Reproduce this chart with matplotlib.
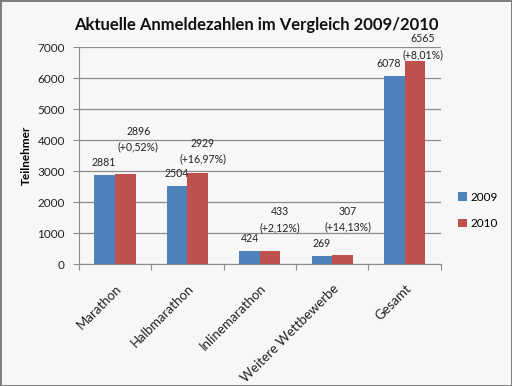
import matplotlib
matplotlib.use("Agg")
import matplotlib.pyplot as plt
import numpy as np

categories = ["Marathon", "Halbmarathon", "Inlinemarathon", "Weitere Wettbewerbe", "Gesamt"]
values_2009 = [2881, 2504, 424, 269, 6078]
values_2010 = [2896, 2929, 433, 307, 6565]
series_names = ["2009", "2010"]

# label nudges in pixels (hand placed in the original)
shift_2009_x = [-1, 0, 0, 0, -6]
shift_2010_x = [13, 5, 10, 5, 8]
shift_2010_y = [35, 22, 31, 35, 14]

blue = "#4F81BD"
red = "#C0504D"

plt.rcParams["font.family"] = ["Lato", "DejaVu Sans"]

fig = plt.figure(figsize=(5.12, 3.86), dpi=100)
fig.patch.set_facecolor("#f7f7f7")
fig.patch.set_edgecolor("#7f7f7f")
fig.patch.set_linewidth(2)

ax = fig.add_axes([0.154, 0.316, 0.707, 0.562])
ax.set_facecolor("none")

x = np.arange(len(categories))
w = 0.285
bars09 = ax.bar(x - w / 2, values_2009, w, color=blue, label=series_names[0], zorder=3)
bars10 = ax.bar(x + w / 2, values_2010, w, color=red, label=series_names[1], zorder=3)

for i, b in enumerate(bars09):
    ax.annotate(str(values_2009[i]), (b.get_x() + b.get_width() / 2, b.get_height()),
                xytext=(shift_2009_x[i], 12.5), textcoords="offset pixels",
                ha="center", va="center", fontsize=7.6, color="#222222", zorder=4)

for i, b in enumerate(bars10):
    pct = (values_2010[i] - values_2009[i]) / values_2009[i] * 100
    txt = f"{values_2010[i]}\n(+{pct:.2f}%)".replace(".", ",")
    ax.annotate(txt, (b.get_x() + b.get_width() / 2, b.get_height()),
                xytext=(shift_2010_x[i], shift_2010_y[i]), textcoords="offset pixels",
                ha="center", va="center", fontsize=7.6, color="#222222",
                linespacing=1.5, zorder=4)

ax.set_xlim(-0.5, len(categories) - 0.5)
ax.set_ylim(0, 7000)
ax.set_yticks(np.arange(0, 7001, 1000))
ax.yaxis.grid(True, color="#8c8c8c", linewidth=0.9, zorder=0)
ax.set_axisbelow(True)

ax.set_xticks(np.arange(-0.5, len(categories), 1.0))
ax.set_xticklabels([])
ax.set_xticks(x, minor=True)
ax.set_xticklabels(categories, minor=True, rotation=45, ha="right",
                   rotation_mode="anchor", fontsize=9.5, color="#222222")
ax.tick_params(axis="x", which="minor", length=0, pad=13)
ax.tick_params(axis="x", which="major", length=4, color="#8c8c8c")
ax.tick_params(axis="y", length=4, color="#8c8c8c", labelsize=8.5,
               labelcolor="#222222", pad=6)

for s in ["top", "right"]:
    ax.spines[s].set_visible(False)
for s in ["left", "bottom"]:
    ax.spines[s].set_color("#8c8c8c")

ax.set_ylabel("Teilnehmer", fontsize=8.5, fontweight="bold", labelpad=4)

fig.text(0.5, 0.935, "Aktuelle Anmeldezahlen im Vergleich 2009/2010",
         ha="center", va="center", fontsize=12, fontweight="bold", color="#111111")

leg = fig.legend(loc="center left", bbox_to_anchor=(0.895, 0.455), frameon=False,
                 fontsize=8.5, handlelength=0.7, handleheight=0.7, handletextpad=0.3,
                 labelspacing=1.3, borderaxespad=0, borderpad=0)

fig.savefig("out.png", dpi=100, facecolor=fig.get_facecolor(), edgecolor=fig.get_edgecolor())
